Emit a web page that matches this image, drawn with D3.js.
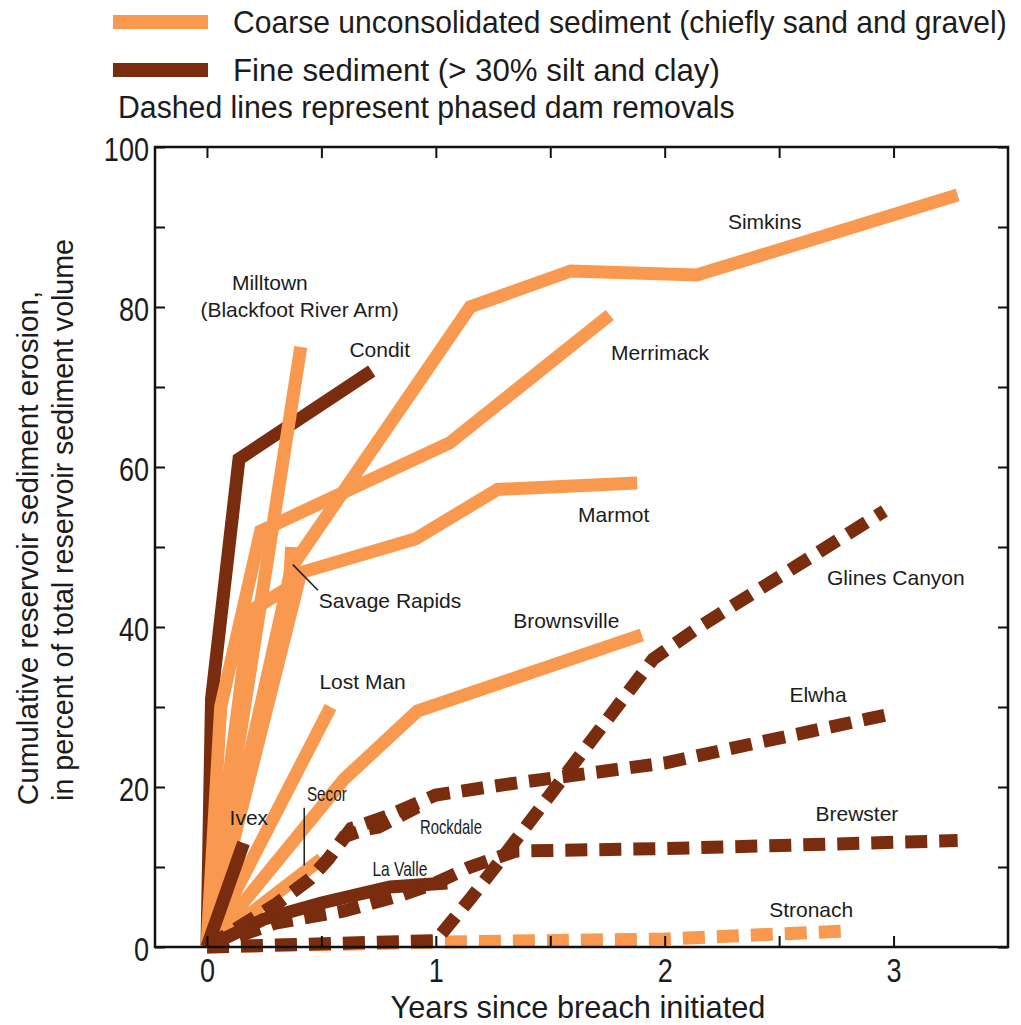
<!DOCTYPE html>
<html>
<head>
<meta charset="utf-8">
<script src="https://cdn.jsdelivr.net/npm/d3@7"></script>
<style>
  body { margin: 0; background: #fff; }
  svg { display: block; }
</style>
</head>
<body>
<svg id="chart" width="1021" height="1025"></svg>
<script>
// Cumulative reservoir sediment erosion after dam removal
// x: years since breach initiated, y: percent of total reservoir sediment volume

const xTickValues = [0, 1, 2, 3];
const yTickValues = [0, 20, 40, 60, 80, 100];

// Coarse sediment reservoirs (solid orange)
const milltown     = [[0, 0], [0.41, 75]];
const merrimack    = [[0, 0], [0.06, 30], [0.235, 52], [1.06, 63], [1.76, 79]];
const savageRapids = [[0, 0], [0.19, 42], [0.36, 45], [0.37, 50]];
const simkins      = [[0, 0], [0.37, 47.5], [1.15, 80], [1.59, 84.5], [2.14, 84], [3.28, 94]];
const marmot       = [[0, 0], [0.41, 46.8], [0.91, 51], [1.27, 57.2], [1.88, 58]];
const lostMan      = [[0, 0], [0.54, 30]];
const brownsville  = [[0, 0], [0.6, 21], [0.92, 29.5], [1.9, 39]];
const secor        = [[0, 0], [0.5, 11]];

// Fine sediment reservoirs (brown)
const condit       = [[0, 0], [0.02, 31], [0.14, 61], [0.72, 72]];
const ivex         = [[0, 0], [0.16, 13]];
const laValle      = [[0, 0], [0.25, 3.5], [0.5, 5.5], [0.8, 7.5], [1.05, 8]];

// Phased removals (dashed)
const rockdale     = [[0, 0], [0.3, 5.3], [0.45, 8.5], [0.53, 11], [0.6, 13.8], [0.68, 14.6], [0.75, 15], [0.92, 17.5]];
const elwha        = [[0, 0], [0.3, 5.3], [0.45, 8.5], [0.53, 11], [0.63, 14.8], [0.8, 16.5], [1.0, 19], [1.3, 20.3], [2.0, 23], [2.4, 25.5], [3.0, 29.2]];
const brewster     = [[0, 0], [0.3, 3], [0.6, 4.5], [0.85, 6.5], [1.0, 8], [1.15, 10], [1.35, 12], [2.0, 12.3], [3.28, 13.3]];
const glinesCanyon = [[0, 0], [1.0, 0.8], [1.15, 6], [1.3, 11.5], [1.95, 36], [2.15, 40], [2.96, 54.5]];
const stronach     = [[0, 0], [1.0, 0.6], [2.0, 1.0], [2.79, 2.0]];

const legendItems = [
  { text: "Coarse unconsolidated sediment (chiefly sand and gravel)", kind: "coarse" },
  { text: "Fine sediment (> 30% silt and clay)", kind: "fine" }
];
const legendNote = "Dashed lines represent phased dam removals";

const xTitle = "Years since breach initiated";
const yTitleLines = ["Cumulative reservoir sediment erosion,", "in percent of total reservoir sediment volume"];

// Series in drawing order (later entries sit on top)
const series = [
  { name: "Stronach",      data: stronach,     kind: "coarse", dashed: true },
  { name: "Condit",        data: condit,       kind: "fine",   dashed: false },
  { name: "Milltown",      data: milltown,     kind: "coarse", dashed: false },
  { name: "Merrimack",     data: merrimack,    kind: "coarse", dashed: false },
  { name: "Marmot",        data: marmot,       kind: "coarse", dashed: false },
  { name: "Simkins",       data: simkins,      kind: "coarse", dashed: false },
  { name: "Savage Rapids", data: savageRapids, kind: "coarse", dashed: false },
  { name: "Lost Man",      data: lostMan,      kind: "coarse", dashed: false },
  { name: "Brownsville",   data: brownsville,  kind: "coarse", dashed: false },
  { name: "Secor",         data: secor,        kind: "coarse", dashed: false },
  { name: "Ivex",          data: ivex,         kind: "fine",   dashed: false },
  { name: "La Valle",      data: laValle,      kind: "fine",   dashed: false },
  { name: "Brewster",      data: brewster,     kind: "fine",   dashed: true },
  { name: "Elwha",         data: elwha,        kind: "fine",   dashed: true },
  { name: "Rockdale",      data: rockdale,     kind: "fine",   dashed: true },
  { name: "Glines Canyon", data: glinesCanyon, kind: "fine",   dashed: true }
];

// Series labels, baseline anchored in data units (narrow ones are squeezed to a set width)
const labels = [
  { text: "Milltown",              x: 0.275, y: 82.1 },
  { text: "(Blackfoot River Arm)", x: 0.405, y: 78.7 },
  { text: "Condit",                x: 0.755, y: 73.7 },
  { text: "Simkins",               x: 2.437, y: 89.7 },
  { text: "Merrimack",             x: 1.98,  y: 73.4 },
  { text: "Marmot",                x: 1.777, y: 53.1 },
  { text: "Savage Rapids",         x: 0.80,  y: 42.4 },
  { text: "Glines Canyon",         x: 3.01,  y: 45.2 },
  { text: "Brownsville",           x: 1.57,  y: 39.9 },
  { text: "Lost Man",              x: 0.68,  y: 32.3 },
  { text: "Elwha",                 x: 2.67,  y: 30.6 },
  { text: "Secor",                 x: 0.524, y: 18.3, width: 40 },
  { text: "Ivex",                  x: 0.183, y: 15.2 },
  { text: "Rockdale",              x: 1.066, y: 14.1, width: 62 },
  { text: "Brewster",              x: 2.84,  y: 15.7 },
  { text: "La Valle",              x: 0.843, y: 8.9,  width: 55 },
  { text: "Stronach",              x: 2.64,  y: 3.8 }
];

// Leader lines from a label to its series
const leaders = [
  { from: [0.485, 44.6], to: [0.375, 47.8] },
  { from: [0.425, 17.4], to: [0.425, 10.2] }
];

const COLORS = { coarse: "#F8994F", fine: "#7A2C0E" };
const SANS = "'Liberation Sans', Arial, 'DejaVu Sans', sans-serif";
const NARROW = "'Liberation Sans Narrow', 'Arial Narrow', 'Liberation Sans', Arial, sans-serif";
const INK = "#1c1c1c";

// Squeeze text horizontally to a fraction of its natural width
function condense(sel, factor) {
  sel.each(function () {
    const len = this.getComputedTextLength();
    d3.select(this).attr("textLength", len * factor).attr("lengthAdjust", "spacingAndGlyphs");
  });
}

// Place a text at (px, py), optionally rotated, scaled horizontally to a target width
function fitText(g, str, px, py, width, size, anchor, rotate) {
  const t = g.append("text")
    .attr("text-anchor", anchor)
    .attr("font-family", NARROW).attr("font-size", size).attr("fill", INK)
    .text(str);
  const natural = t.node().getComputedTextLength();
  const sx = width / natural;
  t.attr("transform", `translate(${px},${py})${rotate ? ` rotate(${rotate})` : ""} scale(${sx},1)`);
  return t;
}

const svg = d3.select("#chart");
const margin = { left: 155, right: 13, top: 147, bottom: 78 };
const W = 1021, H = 1025;

const x = d3.scaleLinear().domain([-0.227, 3.5]).range([margin.left, W - margin.right]);
const y = d3.scaleLinear().domain([0, 100]).range([H - margin.bottom, margin.top]);

// Series lines
const line = d3.line().x(d => x(d[0])).y(d => y(d[1]));
svg.append("g").selectAll("path")
  .data(series)
  .join("path")
  .attr("d", d => line(d.data))
  .attr("fill", "none")
  .attr("stroke", d => COLORS[d.kind])
  .attr("stroke-width", 13)
  .attr("stroke-linejoin", "miter")
  .attr("stroke-miterlimit", 4)
  .attr("stroke-linecap", "butt")
  .attr("stroke-dasharray", d => d.dashed ? "22,12" : null);

// Leader lines
svg.append("g").selectAll("line")
  .data(leaders)
  .join("line")
  .attr("x1", d => x(d.from[0])).attr("y1", d => y(d.from[1]))
  .attr("x2", d => x(d.to[0])).attr("y2", d => y(d.to[1]))
  .attr("stroke", INK).attr("stroke-width", 1.5);

// Series labels
svg.append("g").selectAll("text")
  .data(labels)
  .join("text")
  .attr("x", d => x(d.x))
  .attr("y", d => y(d.y))
  .attr("text-anchor", "middle")
  .attr("font-family", SANS)
  .attr("font-size", 21)
  .attr("fill", INK)
  .attr("textLength", d => d.width || null)
  .attr("lengthAdjust", d => d.width ? "spacingAndGlyphs" : null)
  .text(d => d.text);

// Frame
svg.append("rect")
  .attr("x", x.range()[0]).attr("y", y.range()[1])
  .attr("width", x.range()[1] - x.range()[0])
  .attr("height", y.range()[0] - y.range()[1])
  .attr("fill", "none").attr("stroke", "#111").attr("stroke-width", 2.5);

// Inward ticks on all four sides
const xMinor = d3.range(0, 3.01, 0.5);
const yMinor = d3.range(0, 100.1, 10);
const axisStyle = g => {
  g.select(".domain").remove();
  g.selectAll(".tick line").attr("stroke", "#111").attr("stroke-width", 2);
  g.selectAll(".tick text").remove();
};
svg.append("g").attr("transform", `translate(0,${y(0)})`)
  .call(d3.axisTop(x).tickValues(xMinor).tickSize(11)).call(axisStyle);
svg.append("g").attr("transform", `translate(0,${y(100)})`)
  .call(d3.axisBottom(x).tickValues(xMinor).tickSize(11)).call(axisStyle);
svg.append("g").attr("transform", `translate(${x.range()[0]},0)`)
  .call(d3.axisRight(y).tickValues(yMinor).tickSize(10)).call(axisStyle);
svg.append("g").attr("transform", `translate(${x.range()[1]},0)`)
  .call(d3.axisLeft(y).tickValues(yMinor).tickSize(10)).call(axisStyle);

// Tick labels
const labelAxis = g => {
  g.select(".domain").remove();
  g.selectAll(".tick line").remove();
  g.selectAll(".tick text")
    .attr("font-family", NARROW).attr("font-size", 33).attr("fill", INK)
    .call(condense, 0.82);
};
svg.append("g").attr("transform", `translate(0,${y(0)})`)
  .call(d3.axisBottom(x).tickValues(xTickValues).tickFormat(d3.format("d")).tickSize(0).tickPadding(12))
  .call(labelAxis);
svg.append("g").attr("transform", `translate(${x.range()[0]},0)`)
  .call(d3.axisLeft(y).tickValues(yTickValues).tickFormat(d3.format("d")).tickSize(0).tickPadding(6))
  .call(labelAxis)
  .selectAll(".tick text").attr("dy", "0.4em");

// Axis titles
fitText(svg, xTitle, 578, 1018, 375, 32, "middle");

const yTitleX = [38, 73];
const yTitleLen = [515, 562];
const yTitleMid = [548, 520];
yTitleLines.forEach((t, i) => {
  fitText(svg, t, yTitleX[i], yTitleMid[i], yTitleLen[i], 30, "middle", -90);
});

// Legend
const legend = svg.append("g");
const legendRows = [22, 70];
const legendLens = [774, 487];
legendItems.forEach((d, i) => {
  legend.append("rect")
    .attr("x", 113).attr("y", legendRows[i] - 7)
    .attr("width", 95).attr("height", 14)
    .attr("fill", COLORS[d.kind]);
  fitText(legend, d.text, 233, legendRows[i] + 11, legendLens[i], 31, "start");
});
fitText(legend, legendNote, 118, 118, 617, 31, "start");
</script>
</body>
</html>
